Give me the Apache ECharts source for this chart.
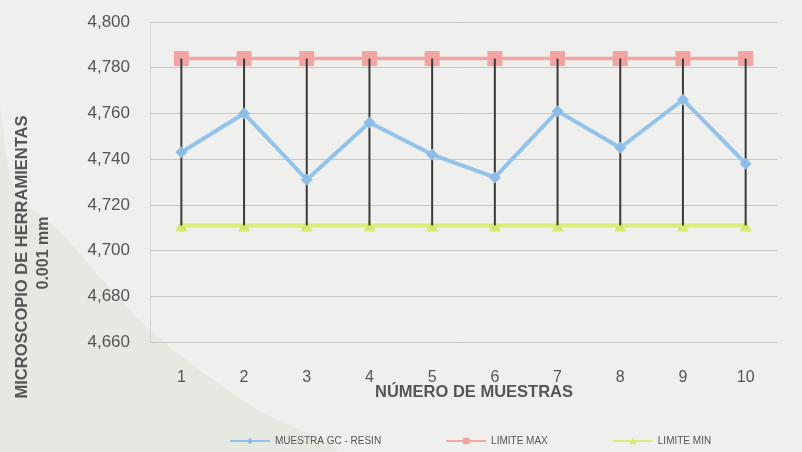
<!DOCTYPE html>
<html><head><meta charset="utf-8">
<script src="https://cdn.jsdelivr.net/npm/echarts@6/dist/echarts.min.js"></script>
<style>html,body{margin:0;padding:0;background:#efefed}#c{width:802px;height:452px}</style>
</head><body><div id="c"></div>
<script>
var categories = ['1','2','3','4','5','6','7','8','9','10'];
var muestra = [4743, 4760, 4731, 4756, 4742, 4732, 4761, 4745, 4766, 4738];
var limiteMax = [4784, 4784, 4784, 4784, 4784, 4784, 4784, 4784, 4784, 4784];
var limiteMin = [4711, 4711, 4711, 4711, 4711, 4711, 4711, 4711, 4711, 4711];
var yTicks = {min: 4660, max: 4800, interval: 20};
var yTitle = ['MICROSCOPIO DE HERRAMIENTAS', '0.001 mm'];
var xTitle = 'NÚMERO DE MUESTRAS';

var hiLo = categories.map(function (c, i) { return [i, limiteMin[i], limiteMax[i]]; });

var chart = echarts.init(document.getElementById('c'));
chart.setOption({
  backgroundColor: '#efefed',
  animation: false,
  textStyle: {fontFamily: 'Liberation Sans'},
  graphic: [
    {
      type: 'polygon', z: -10, silent: true,
      shape: {points: [[0,110],[15,190],[60,232],[150,330],[250,405],[335,452],[0,452]], smooth: 0.3},
      style: {fill: '#e5e9e1'}
    },
    {
      type: 'text', x: 22, y: 257, rotation: Math.PI / 2, silent: true,
      style: {text: yTitle[0], fill: '#555', font: 'bold 16.5px "Liberation Sans"', align: 'center', verticalAlign: 'middle'}
    },
    {
      type: 'text', x: 44, y: 253, rotation: Math.PI / 2, silent: true,
      style: {text: yTitle[1], fill: '#555', font: 'bold 16px "Liberation Sans"', align: 'center', verticalAlign: 'middle'}
    },
    {
      type: 'text', x: 474, y: 392, silent: true,
      style: {text: xTitle, fill: '#555', font: 'bold 16.5px "Liberation Sans"', align: 'center', verticalAlign: 'middle'}
    }
  ],
  grid: {left: 150, right: 25, top: 22, bottom: 110},
  legend: {
    data: ['MUESTRA GC - RESIN', 'LIMITE MAX', 'LIMITE MIN'],
    left: 224, top: 431, itemWidth: 40, itemHeight: 8, itemGap: 64,
    textStyle: {fontSize: 10, color: '#555'}
  },
  xAxis: {
    type: 'category', data: categories,
    axisLine: {show: false}, axisTick: {show: false},
    axisLabel: {fontSize: 16, color: '#555', margin: 28}
  },
  yAxis: {
    type: 'value', min: yTicks.min, max: yTicks.max, interval: yTicks.interval,
    axisLine: {show: true, lineStyle: {color: '#d9d2d2'}}, axisTick: {show: false},
    axisLabel: {fontSize: 17, color: '#555', margin: 20,
      formatter: function (v) { return String(v).replace(/(\d)(\d{3})$/, '$1,$2'); }},
    splitLine: {lineStyle: {color: '#cdc5c5', width: 1}}
  },
  series: [
    {
      name: 'HiLo', type: 'custom', data: hiLo, z: 3,
      renderItem: function (params, api) {
        var a = api.coord([api.value(0), api.value(1)]);
        var b = api.coord([api.value(0), api.value(2)]);
        return {type: 'line', shape: {x1: a[0], y1: a[1], x2: b[0], y2: b[1]},
          style: {stroke: '#3a3a3a', lineWidth: 2}};
      }
    },
    {
      name: 'LIMITE MAX', type: 'line', data: limiteMax, z: 2,
      symbol: 'rect', symbolSize: 15,
      lineStyle: {color: '#f3a7a5', width: 3.5},
      itemStyle: {color: '#f2a3a2'}
    },
    {
      name: 'LIMITE MIN', type: 'line', data: limiteMin, z: 2,
      symbol: 'triangle', symbolSize: 12,
      lineStyle: {color: '#dcec7c', width: 4},
      itemStyle: {color: '#d6ea72'}
    },
    {
      name: 'MUESTRA GC - RESIN', type: 'line', data: muestra, z: 4,
      symbol: 'diamond', symbolSize: 12,
      lineStyle: {color: '#93c3ea', width: 4},
      itemStyle: {color: '#8dbde6'}
    }
  ]
});
</script></body></html>
